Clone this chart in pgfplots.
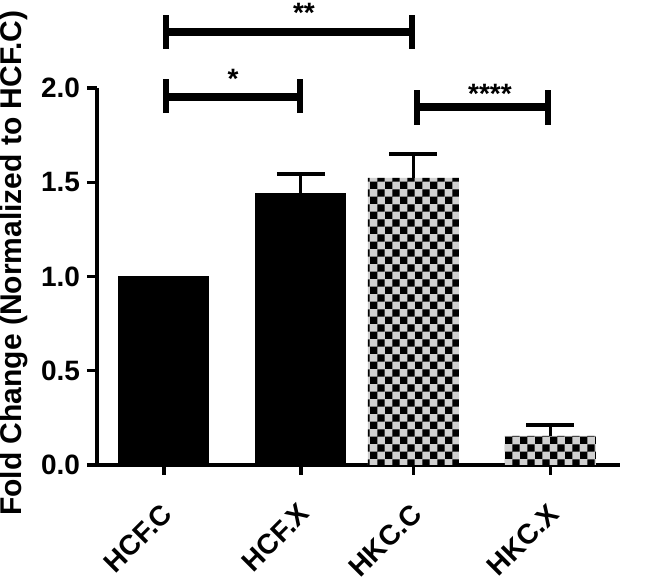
\documentclass[border=0pt]{standalone}
\usepackage{pgfplots}
\pgfplotsset{compat=1.18}
\usepackage{fontspec}
\setmainfont{Liberation Sans}
\usetikzlibrary{patterns}
\pgfdeclarepatternformonly{bigcheck}{\pgfpointorigin}{\pgfqpoint{7.4pt}{7.4pt}}{\pgfqpoint{7.4pt}{7.4pt}}{%
  \pgfpathrectangle{\pgfpointorigin}{\pgfqpoint{3.7pt}{3.7pt}}%
  \pgfpathrectangle{\pgfqpoint{3.7pt}{3.7pt}}{\pgfqpoint{3.7pt}{3.7pt}}%
  \pgfusepath{fill}}
\definecolor{checkgray}{RGB}{208,208,208}
\newcommand{\lblfont}{\fontsize{14}{16}\selectfont\bfseries}
\begin{document}
\begin{tikzpicture}
\begin{axis}[
  scale only axis, width=261.5pt, height=188.5pt,
  xmin=97, xmax=620, ymin=0, ymax=2,
  clip=false,
  axis x line=bottom, axis y line=left,
  axis line style={-, line width=1.6pt},
  tick align=outside, major tick length=5pt,
  tick style={line width=1.6pt, black},
  ytick={0,0.5,1,1.5,2},
  yticklabel style={/pgf/number format/.cd, fixed, fixed zerofill, precision=1, assume math mode=true, /tikz/.cd, font=\lblfont},
  xtick={164,301,413.5,550.5},
  xticklabels={HCF.C,HCF.X,HKC.C,HKC.X},
  xticklabel style={xshift=-2pt, yshift=-8.5pt, rotate=45, anchor=north east, font=\lblfont},
  ylabel={Fold Change (Normalized to HCF.C)},
  ylabel style={at={(axis description cs:-0.1587,0.535)}, anchor=center, font=\fontsize{15}{17}\selectfont\bfseries},
]
% solid bars
\addplot[ybar, bar width=91, bar shift=0pt, fill=black, draw=none] coordinates {(164,1.0)};
\addplot[ybar, bar width=91, bar shift=0pt, fill=black, draw=none,
  error bars/.cd, y dir=plus, y explicit,
  error bar style={line width=1.5pt, black},
  error mark options={rotate=90, mark size=12pt, line width=1.6pt, black}]
  coordinates {(301,1.443) +- (0,0.101)};
% checkerboard bars
\addplot[ybar, bar width=91, bar shift=0pt, fill=checkgray, draw=none]
  coordinates {(413.5,1.523) (550.5,0.154)};
\addplot[ybar, bar width=91, bar shift=0pt, pattern=bigcheck, pattern color=black, draw=none,
  error bars/.cd, y dir=plus, y explicit,
  error bar style={line width=1.5pt, black},
  error mark options={rotate=90, mark size=12pt, line width=1.6pt, black}]
  coordinates {(413.5,1.523) +- (0,0.127) (550.5,0.154) +- (0,0.058)};
% significance brackets
\addplot[black, mark=none, line width=3.6pt] coordinates {(166,2.297) (412,2.297)};
\addplot[black, mark=none, line width=2.9pt] coordinates {(166,2.207) (166,2.387)};
\addplot[black, mark=none, line width=2.9pt] coordinates {(412,2.207) (412,2.387)};
\addplot[black, mark=none, line width=3.6pt] coordinates {(166,1.952) (300,1.952)};
\addplot[black, mark=none, line width=2.9pt] coordinates {(166,1.867) (166,2.048)};
\addplot[black, mark=none, line width=2.9pt] coordinates {(300,1.867) (300,2.048)};
\addplot[black, mark=none, line width=3.6pt] coordinates {(417,1.899) (548,1.899)};
\addplot[black, mark=none, line width=2.9pt] coordinates {(417,1.804) (417,1.989)};
\addplot[black, mark=none, line width=2.9pt] coordinates {(548,1.804) (548,1.989)};
\node[anchor=base, font=\lblfont] at (axis cs:304,2.345) {**};
\node[anchor=base, font=\lblfont] at (axis cs:233,1.995) {*};
\node[anchor=base, font=\lblfont] at (axis cs:490,1.92) {****};
\end{axis}
\pgfresetboundingbox
\path[use as bounding box] ([shift={(-48.5pt,-56pt)}]current axis.south west) rectangle ([shift={(23pt,44pt)}]current axis.north east);
\end{tikzpicture}
\end{document}
